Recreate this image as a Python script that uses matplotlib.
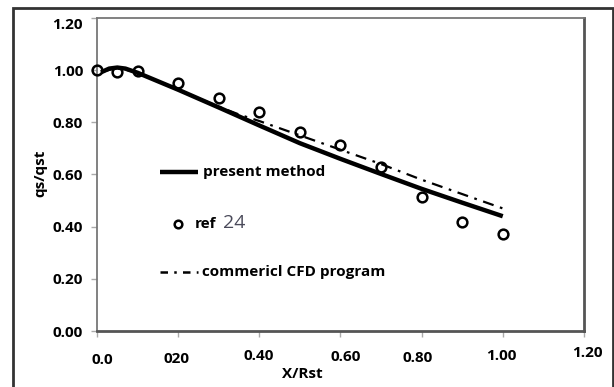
import matplotlib
matplotlib.use('Agg')
import matplotlib.pyplot as plt
import matplotlib.transforms as mtransforms
from matplotlib.patches import Rectangle

plt.rcParams['font.family'] = ['Open Sans', 'DejaVu Sans']

# present method (solid line)
present_x = [0.01, 0.03, 0.05, 0.07, 0.1, 0.2, 0.3, 0.4, 0.5, 0.6, 0.7, 0.8, 0.9, 1.0]
present_y = [0.992, 1.006, 1.010, 1.006, 0.990, 0.925, 0.857, 0.788, 0.720, 0.660, 0.602, 0.545, 0.492, 0.44]

# commercial CFD program (dash-dot)
cfd_x = [0.01, 0.05, 0.1, 0.2, 0.3, 0.35, 0.4, 0.5, 0.6, 0.7, 0.8, 0.9, 1.0]
cfd_y = [0.992, 1.010, 0.990, 0.925, 0.860, 0.830, 0.805, 0.750, 0.695, 0.640, 0.580, 0.525, 0.470]

# ref 24 (open circles)
ref_x = [0.0, 0.05, 0.1, 0.2, 0.3, 0.4, 0.5, 0.6, 0.7, 0.8, 0.9, 1.0]
ref_y = [1.0, 0.993, 0.995, 0.95, 0.895, 0.841, 0.764, 0.712, 0.63, 0.514, 0.419, 0.372]

xtick_vals = [0.0, 0.2, 0.4, 0.6, 0.8, 1.0, 1.2]
xtick_labels = ['0.0', '020', '0.40', '0.60', '0.80', '1.00', '1.20']
ytick_vals = [0.0, 0.2, 0.4, 0.6, 0.8, 1.0, 1.2]

FS = 11
W = 'bold'

fig = plt.figure(figsize=(6.14, 3.87), dpi=100)
ax = fig.add_axes([0.158, 0.1447, 0.793, 0.8088])

ax.plot(present_x, present_y, color='black', lw=3.2, solid_capstyle='butt', zorder=3)
ax.plot(cfd_x, cfd_y, color='black', lw=1.6, dashes=(5, 3, 1.2, 3), zorder=2)
ax.plot(ref_x, ref_y, 'o', mfc='none', mec='black', ms=7, mew=1.8, zorder=4, clip_on=False)

ax.set_xlim(0, 1.2)
ax.set_ylim(0, 1.2)

ax.set_yticks(ytick_vals)
ax.set_yticklabels(['%.2f' % v for v in ytick_vals], fontsize=FS, fontweight=W)
ax.set_xticks(xtick_vals)
ax.set_xticklabels([])
ax.tick_params(axis='both', length=4, width=1, color='#aaaaaa', pad=6)

# top y label sits a bit low in the original
top_lab = ax.get_yticklabels()[-1]
top_lab.set_transform(top_lab.get_transform() + mtransforms.ScaledTranslation(0, -6 / 100, fig.dpi_scale_trans))

# x tick labels sit at slightly uneven places in the original
x_dx = [5, -2, -1, 5, -4, -1, 3]
x_dy = [-29, -28, -25, -26, -27, -25, -22]
for v, lab, dx, dy in zip(xtick_vals, xtick_labels, x_dx, x_dy):
    ax.annotate(lab, xy=(v, 0), xycoords='data', xytext=(dx, dy),
                textcoords='offset pixels', ha='center', va='center',
                fontsize=FS, fontweight=W)

for side in ['left', 'top']:
    ax.spines[side].set_color('#777777')
    ax.spines[side].set_linewidth(1.3)
for side in ['right', 'bottom']:
    ax.spines[side].set_color('#555555')
    ax.spines[side].set_linewidth(2.0)

fig.text(302 / 614, 1 - 374 / 387, 'X/Rst', ha='center', va='center', fontsize=FS, fontweight=W)
fig.text(40 / 614, 1 - 173 / 387, 'qs/qst', ha='center', va='center', rotation=90,
         fontsize=FS, fontweight=W)

# hand-placed legend inside the plot
ax.plot([0.155, 0.248], [0.61, 0.61], color='black', lw=3.2, solid_capstyle='butt')
ax.text(0.262, 0.61, 'present method', ha='left', va='center', fontsize=FS, fontweight=W)
ax.plot([0.2], [0.41], 'o', mfc='none', mec='black', ms=5.5, mew=1.8)
ax.text(0.24, 0.41, 'ref', ha='left', va='center', fontsize=FS, fontweight=W)
ax.text(0.31, 0.415, '24', ha='left', va='center', fontsize=14, color='#4a4a5a')
ax.plot([0.155, 0.248], [0.225, 0.225], color='black', lw=1.8, dashes=(3, 2.5, 1, 2.5))
ax.text(0.258, 0.225, 'commericl CFD program', ha='left', va='center', fontsize=FS, fontweight=W)

# outer frame
fig.patches.append(Rectangle((13 / 614, -0.05), 600 / 614, 1.05 - 8 / 387,
                             transform=fig.transFigure, fill=False, lw=2.0, ec='#333333'))

fig.savefig('out.png', dpi=100)
